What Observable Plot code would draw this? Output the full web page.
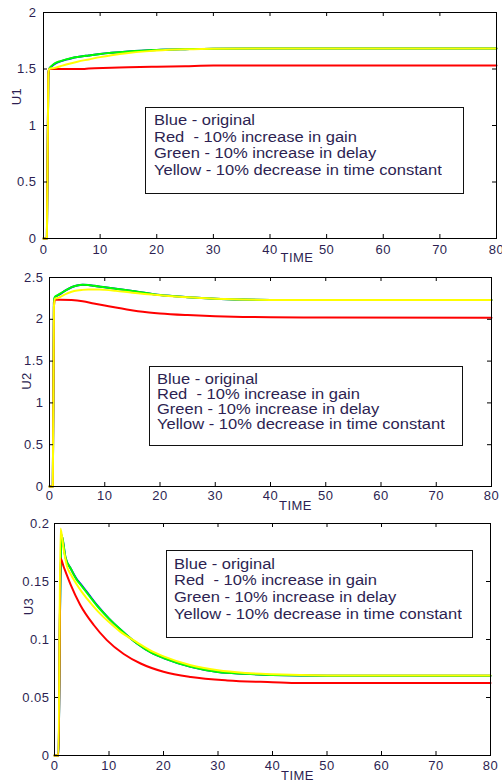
<!DOCTYPE html>
<html>
<head>
<meta charset="utf-8">
<script src="https://cdn.jsdelivr.net/npm/d3@7"></script>
<script src="https://cdn.jsdelivr.net/npm/@observablehq/plot@0.6"></script>
<style>
  body { margin: 0; background: #fff; }
  #wrap { position: relative; width: 502px; height: 783px; overflow: hidden; font-family: "Liberation Sans", Arial, sans-serif; }
  .panel { position: absolute; left: 0; }
  .panel svg { overflow: visible; background: transparent; }
  .panel svg text { letter-spacing: 0.5px; }
  .legend { position: absolute; border: 1.5px solid #111; background: #fff; color: #2d1f52; font-size: 14px; white-space: pre; box-sizing: border-box; }
  .legend div { transform: scaleX(1.18); transform-origin: left center; }
</style>
</head>
<body>
<div id="wrap"></div>
<script>
// ---------- data ----------
const xTicks = [0, 10, 20, 30, 40, 50, 60, 70, 80];
const legendLines = ["Blue - original", "Red  - 10% increase in gain", "Green - 10% increase in delay", "Yellow - 10% decrease in time constant"];
const seriesNames = ["Blue", "Green", "Red", "Yellow"];
const seriesColors = ["#0000ff", "#00ff00", "#ff0000", "#ffff00"];

// Panel 1 : U1
const u1Ticks = [0, 0.5, 1, 1.5, 2];
const u1TimeBG = [0, 0.6, 0.85, 1, 1.5, 2, 3, 4, 5, 6, 8, 10, 12, 15, 20, 25, 30, 40, 50, 60, 70, 80];
const u1Blue   = [0, 0, 1.45, 1.5, 1.527, 1.546, 1.567, 1.583, 1.596, 1.606, 1.62, 1.633, 1.643, 1.655, 1.668, 1.675, 1.68, 1.682, 1.682, 1.682, 1.682, 1.682];
const u1Green  = [0, 0, 1.42, 1.5, 1.53, 1.55, 1.57, 1.585, 1.597, 1.606, 1.62, 1.633, 1.643, 1.655, 1.668, 1.675, 1.68, 1.682, 1.682, 1.682, 1.682, 1.682];
const u1TimeY  = [0, 0.6, 0.85, 1, 2, 3, 4, 6, 8, 10, 12, 15, 18, 20, 25, 30, 40, 80];
const u1Yellow = [0, 0, 1.45, 1.5, 1.51, 1.525, 1.54, 1.565, 1.585, 1.605, 1.622, 1.642, 1.656, 1.663, 1.674, 1.68, 1.682, 1.682];
const u1TimeR  = [0, 0.6, 0.85, 1, 2.5, 7, 8, 12, 15, 20, 25, 30, 40, 80];
const u1Red    = [0, 0, 1.45, 1.5, 1.5, 1.5, 1.505, 1.51, 1.515, 1.52, 1.525, 1.53, 1.532, 1.532];

// Panel 2 : U2
const u2Ticks = [0, 0.5, 1, 1.5, 2, 2.5];
const u2TimeBG = [0, 0.6, 0.8, 1, 1.5, 2, 3, 4, 5, 6, 7, 8, 10, 12, 15, 20, 25, 30, 35, 40, 50, 80];
const u2Blue   = [0, 0, 2.2, 2.265, 2.285, 2.305, 2.348, 2.383, 2.404, 2.412, 2.41, 2.4, 2.383, 2.365, 2.34, 2.29, 2.265, 2.247, 2.237, 2.232, 2.23, 2.23];
const u2Green  = [0, 0, 2.2, 2.27, 2.29, 2.31, 2.35, 2.385, 2.405, 2.412, 2.41, 2.4, 2.383, 2.365, 2.34, 2.29, 2.265, 2.247, 2.237, 2.232, 2.23, 2.23];
const u2TimeY  = [0, 0.6, 0.8, 1, 1.5, 2, 3, 4, 5, 6, 7, 8, 9, 10, 12, 15, 20, 25, 30, 35, 40, 50, 80];
const u2Yellow = [0, 0, 2.15, 2.25, 2.255, 2.27, 2.305, 2.33, 2.345, 2.352, 2.356, 2.357, 2.356, 2.352, 2.34, 2.318, 2.288, 2.263, 2.247, 2.237, 2.232, 2.23, 2.23];
const u2TimeR  = [0, 0.6, 0.8, 1, 2, 4, 6, 8, 10, 12, 14, 16, 18, 20, 25, 30, 35, 40, 50, 80];
const u2Red    = [0, 0, 2.15, 2.235, 2.235, 2.23, 2.215, 2.19, 2.165, 2.14, 2.117, 2.097, 2.082, 2.07, 2.05, 2.036, 2.028, 2.025, 2.022, 2.02];

// Panel 3 : U3
const u3Ticks = [0, 0.05, 0.1, 0.15, 0.2];
const u3TimeBG = [0, 0.75, 1.0, 1.3, 2, 3, 4, 5, 6, 8, 10, 12, 15, 18, 20, 25, 30, 35, 40, 50, 60, 80];
const u3Blue   = [0, 0, 0.12, 0.19, 0.171, 0.161, 0.1526, 0.1466, 0.1406, 0.1285, 0.118, 0.109, 0.097, 0.088, 0.084, 0.0765, 0.072, 0.0705, 0.0695, 0.0688, 0.0688, 0.0688];
const u3Green  = [0, 0, 0.12, 0.19, 0.171, 0.161, 0.152, 0.146, 0.14, 0.128, 0.118, 0.109, 0.097, 0.088, 0.084, 0.0765, 0.072, 0.0705, 0.0695, 0.0688, 0.0688, 0.0688];
const u3TimeY  = [0, 0.72, 1.1, 1.7, 2.3, 3, 4, 5, 6, 8, 10, 12, 15, 18, 20, 25, 30, 35, 40, 50, 80];
const u3Yellow = [0, 0, 0.1957, 0.177, 0.163, 0.156, 0.148, 0.141, 0.135, 0.124, 0.115, 0.107, 0.098, 0.0895, 0.0855, 0.0778, 0.0735, 0.0712, 0.07, 0.069, 0.069];
const u3TimeR  = [0, 0.75, 1.1, 1.7, 2.9, 4.7, 7.2, 9.6, 12.7, 15.8, 20, 25, 31.7, 40, 45, 80];
const u3Red    = [0, 0, 0.17, 0.1625, 0.148, 0.130, 0.1125, 0.0995, 0.0875, 0.0793, 0.0722, 0.0677, 0.0647, 0.0632, 0.0625, 0.0624];

// ---------- helpers ----------
const rows = (times, values) => times.map((t, i) => ({t, v: values[i]}));
const FONT = "'Liberation Sans', Arial, sans-serif";
const TEXT = "#2d1f52";

function panel(cfg) {
  const innerH = cfg.height - cfg.mt - cfg.mb;
  const innerW = 502 - cfg.ml - cfg.mr;
  const lines = cfg.series.map(([times, values], i) =>
    Plot.line(rows(times, values), {x: "t", y: "v", stroke: cfg.colors[i], strokeWidth: 2, curve: "monotone-x"}));
  const chart = Plot.plot({
    width: 502, height: cfg.height,
    marginTop: cfg.mt, marginBottom: cfg.mb, marginLeft: cfg.ml, marginRight: cfg.mr,
    x: {domain: [0, 80], label: null},
    y: {domain: cfg.yDomain, label: null},
    style: {fontFamily: FONT, fontSize: "13px", color: TEXT, background: "transparent"},
    marks: [
      ...lines,
      Plot.frame({stroke: "#000", strokeWidth: 1}),
      Plot.tickX(xTicks, {x: d => d, insetTop: innerH - 4, stroke: "#000"}),
      Plot.tickX(xTicks, {x: d => d, insetBottom: innerH - 4, stroke: "#000"}),
      Plot.tickY(cfg.yTicks, {y: d => d, insetRight: innerW - 4, stroke: "#000"}),
      Plot.tickY(cfg.yTicks, {y: d => d, insetLeft: innerW - 4, stroke: "#000"}),
      Plot.axisX(xTicks, {tickSize: 0, tickPadding: cfg.xPad, tickFormat: d => String(d), fill: TEXT, label: null}),
      Plot.axisY(cfg.yTicks, {tickSize: 0, tickPadding: cfg.yPad, tickFormat: d => String(d), fill: TEXT, label: null}),
      Plot.text(["TIME"], {text: d => d, frameAnchor: "bottom", dx: cfg.timeDx, dy: cfg.timeDy, textAnchor: "middle", lineAnchor: "middle", fill: TEXT, fontSize: 13}),
      Plot.text([cfg.yLabel], {text: d => d, frameAnchor: "left", rotate: -90, dx: cfg.yLabDx, dy: cfg.yLabDy, textAnchor: "middle", lineAnchor: "middle", fill: TEXT, fontSize: 13})
    ]
  });
  const div = document.createElement("div");
  div.className = "panel";
  div.style.top = cfg.top + "px";
  div.appendChild(chart);
  document.getElementById("wrap").appendChild(div);

  const lg = document.createElement("div");
  lg.className = "legend";
  Object.assign(lg.style, {left: cfg.lg.left + "px", top: cfg.lg.top + "px", width: cfg.lg.w + "px", height: cfg.lg.h + "px",
    paddingLeft: cfg.lg.pl + "px", paddingTop: cfg.lg.pt + "px", lineHeight: cfg.lg.lh + "px"});
  legendLines.forEach(s => { const d = document.createElement("div"); d.textContent = s; lg.appendChild(d); });
  document.getElementById("wrap").appendChild(lg);
}

panel({top: 0, height: 262, mt: 12, mb: 24, ml: 43, mr: 6, yDomain: [0, 2], yTicks: u1Ticks,
  series: [[u1TimeBG, u1Blue], [u1TimeBG, u1Green], [u1TimeR, u1Red], [u1TimeY, u1Yellow]],
  colors: seriesColors, xPad: 6, yPad: 7, timeDx: 27, timeDy: 19, yLabel: "U1", yLabDx: -27, yLabDy: -29,
  lg: {left: 145, top: 107, w: 319, h: 87, pl: 8, pt: 4, lh: 16.7}});

panel({top: 262, height: 248, mt: 15, mb: 24, ml: 49, mr: 11, yDomain: [0, 2.5], yTicks: u2Ticks,
  series: [[u2TimeBG, u2Blue], [u2TimeBG, u2Green], [u2TimeR, u2Red], [u2TimeY, u2Yellow]],
  colors: seriesColors, xPad: 4.5, yPad: 6, timeDx: 25, timeDy: 19, yLabel: "U2", yLabDx: -23, yLabDy: -1,
  lg: {left: 149, top: 366, w: 314, h: 80, pl: 7, pt: 4.5, lh: 15}});

panel({top: 510, height: 273, mt: 13, mb: 28, ml: 54, mr: 12, yDomain: [0, 0.2], yTicks: u3Ticks,
  series: [[u3TimeBG, u3Blue], [u3TimeBG, u3Green], [u3TimeR, u3Red], [u3TimeY, u3Yellow]],
  colors: seriesColors, xPad: 5.5, yPad: 5, timeDx: 25, timeDy: 20, yLabel: "U3", yLabDx: -26, yLabDy: -33,
  lg: {left: 166, top: 550, w: 307, h: 88, pl: 7, pt: 4.5, lh: 16.7}});
</script>
</body>
</html>
